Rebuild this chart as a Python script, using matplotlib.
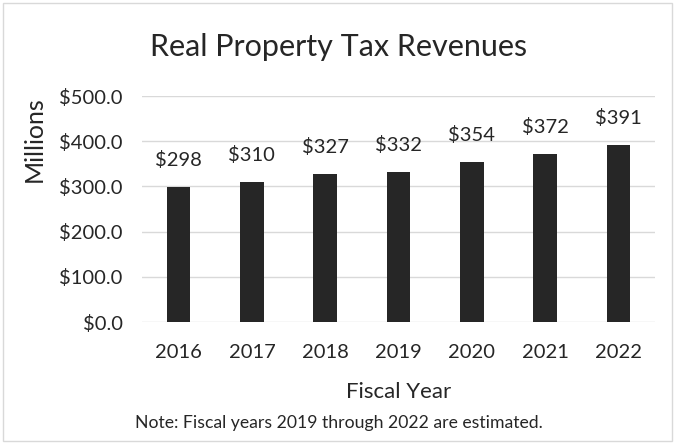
import matplotlib.pyplot as plt
from matplotlib.patches import Rectangle

years = ['2016', '2017', '2018', '2019', '2020', '2021', '2022']
revenues = [298, 310, 327, 332, 354, 372, 391]   # millions of dollars
y_ticks = [0, 100, 200, 300, 400, 500]

plt.rcParams['font.family'] = ['Lato', 'DejaVu Sans']
TEXT = '#262626'

fig = plt.figure(figsize=(6.77, 4.44), dpi=100)
ax = fig.add_axes([142 / 677, 1 - 322 / 444, 513 / 677, 226 / 444])

x = range(len(years))
ax.bar(x, revenues, width=0.32, color='#262626', zorder=3)
for xi, v in zip(x, revenues):
    ax.annotate(f'${v}', (xi, v), xytext=(0, 13), textcoords='offset points',
                ha='center', va='bottom', fontsize=14.5, color=TEXT)

ax.set_xlim(-0.5, len(years) - 0.5)
ax.set_ylim(0, 500)
ax.set_yticks(y_ticks)
ax.set_yticklabels([f'${t:.1f}' for t in y_ticks])
ax.set_xticks(list(x))
ax.set_xticklabels(years)
ax.tick_params(length=0, labelsize=14.5, labelcolor=TEXT)
ax.tick_params(axis='x', pad=16)
ax.tick_params(axis='y', pad=14)
ax.grid(axis='y', color='#d9d9d9', linewidth=1, zorder=0)
for s in ax.spines.values():
    s.set_visible(False)

ax.set_xlabel('Fiscal Year', fontsize=16, color=TEXT, labelpad=15)
fig.text(34 / 677, 1 - 139 / 444, 'Millions', rotation=90, ha='center', va='center',
         fontsize=18, color=TEXT)

fig.text(0.5, 1 - 47 / 444, 'Real Property Tax Revenues', ha='center', va='center',
         fontsize=22, color=TEXT)
fig.text(0.5, 1 - 423 / 444, 'Note: Fiscal years 2019 through 2022 are estimated.',
         ha='center', va='center', fontsize=12.7, color=TEXT)

# chart border
fig.patches.append(Rectangle((3 / 677, 3 / 444), 669 / 677, 438 / 444,
                             transform=fig.transFigure, fill=False,
                             edgecolor='#d9d9d9', linewidth=1))

fig.savefig('out.png', dpi=100)
